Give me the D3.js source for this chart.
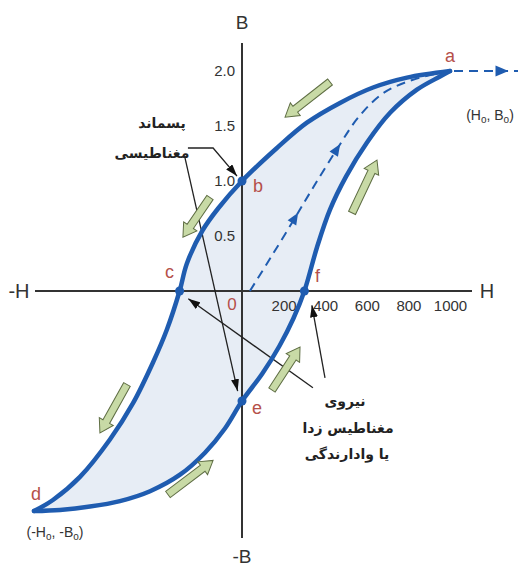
<!DOCTYPE html>
<html>
<head>
<meta charset="utf-8">
<script src="https://cdn.jsdelivr.net/npm/d3@7"></script>
<style>
  body { margin: 0; background: #fff; }
  svg { display: block; }
</style>
</head>
<body>
<svg id="chart" width="518" height="567"></svg>
<script>
// hysteresis loop, values read as [H, B]
const upperBranch = [ // a -> b -> c -> d
  [1000, 2.0], [793, 1.94], [630, 1.85], [471, 1.71], [312, 1.53], [168, 1.30],
  [0, 1.0], [-115, 0.75], [-190, 0.55], [-265, 0.25], [-300, 0], [-361, -0.35],
  [-428, -0.65], [-524, -1.02], [-635, -1.35], [-779, -1.69], [-909, -1.9], [-1000, -2.0]
];
const lowerBranch = [ // d -> e -> f -> a
  [-1000, -2.0], [-875, -1.99], [-731, -1.96], [-587, -1.91], [-442, -1.82],
  [-298, -1.67], [-178, -1.47], [-82, -1.25], [0, -1.0], [98, -0.75], [180, -0.5],
  [247, -0.25], [300, 0], [361, 0.4], [423, 0.74], [500, 1.04], [601, 1.35],
  [712, 1.62], [841, 1.83], [952, 1.95], [1000, 2.0]
];
const initialCurve = [ // dashed, from the origin up to a
  [38, 0], [140, 0.31], [250, 0.65], [345, 0.95], [460, 1.3], [560, 1.58],
  [680, 1.8], [822, 1.92], [1000, 2.0]
];
const initialArrows = [[270, 0.65], [450, 1.3]];
const extension = [[1000, 2.0], [1330, 2.0]];
const extensionArrow = [1250, 2.0];

const xTicks = [200, 400, 600, 800, 1000];
const yTicks = [0.5, 1.0, 1.5, 2.0];

const pointNames = ["a", "b", "c", "d", "e", "f"];
const pointValues = [[1000, 2.0], [0, 1.0], [-300, 0], [-1000, -2.0], [0, -1.0], [300, 0]];
const dotPoints = ["b", "c", "e", "f"];

// direction arrows along the loop [from, to]
const greenArrows = [
  [[423, 1.9], [207, 1.58]],
  [[-154, 0.85], [-284, 0.49]],
  [[529, 0.71], [649, 1.19]],
  [[-553, -0.85], [-683, -1.29]],
  [[144, -0.9], [279, -0.51]],
  [[-356, -1.85], [-139, -1.54]]
];

const remanenceText = ["پسماند", "مغناطیسی"];
const coercivityText = ["نیروی", "مغناطیس زدا", "یا وادارندگی"];

const svg = d3.select("#chart");
const blue = "#1f5cb0";
const red = "#b5504a";
const ink = "#333";
const latin = "'Liberation Sans', Arial, sans-serif";
const persian = "'DejaVu Sans', sans-serif";

const x = d3.scaleLinear().domain([0, 1000]).range([242, 450]);
const y = d3.scaleLinear().domain([0, 2]).range([291, 71]);

const line = d3.line()
  .x(d => x(d[0]))
  .y(d => y(d[1]))
  .curve(d3.curveCatmullRom.alpha(0.5));

// loop fill
const upperPath = line(upperBranch);
const lowerPath = line(lowerBranch);
svg.append("path")
  .attr("d", upperPath + "L" + lowerPath.slice(1) + "Z")
  .attr("fill", "#e7edf5");

// axes
svg.append("line")
  .attr("x1", 35).attr("x2", 472)
  .attr("y1", y(0)).attr("y2", y(0))
  .attr("stroke", ink).attr("stroke-width", 2);
svg.append("line")
  .attr("x1", x(0)).attr("x2", x(0))
  .attr("y1", 43).attr("y2", 538)
  .attr("stroke", ink).attr("stroke-width", 2);

const xAxis = svg.append("g")
  .attr("transform", "translate(0," + y(0) + ")")
  .call(d3.axisBottom(x).tickValues(xTicks).tickSize(0).tickPadding(9).tickFormat(d3.format("d")));
const yAxis = svg.append("g")
  .attr("transform", "translate(" + x(0) + ",0)")
  .call(d3.axisLeft(y).tickValues(yTicks).tickSize(0).tickPadding(7).tickFormat(d3.format(".1f")));
[xAxis, yAxis].forEach(function(g) {
  g.select(".domain").remove();
  g.selectAll("text")
    .attr("fill", ink)
    .style("font-family", latin)
    .style("font-size", "15px");
});

function axisName(t, px, py, size) {
  svg.append("text")
    .attr("x", px).attr("y", py)
    .attr("text-anchor", "middle")
    .attr("dominant-baseline", "central")
    .attr("fill", ink)
    .style("font-family", latin)
    .style("font-size", size + "px")
    .text(t);
}
axisName("B", x(0), 22, 19);
axisName("-B", x(0), 556, 19);
axisName("H", 487, y(0), 20);
axisName("-H", 19, y(0), 20);

// callout leaders
svg.append("defs").append("marker")
  .attr("id", "tip")
  .attr("viewBox", "0 0 12 8")
  .attr("refX", 12).attr("refY", 4)
  .attr("markerWidth", 12).attr("markerHeight", 8)
  .attr("markerUnits", "userSpaceOnUse")
  .attr("orient", "auto")
  .append("path").attr("d", "M0,0L12,4L0,8Z").attr("fill", "#111");

const leaders = [
  [[-260, 1.3], [-139, 1.3], [-24, 1.045]],
  [[-274, 1.21], [-21, -0.91]],
  [[341, -0.88], [-258, -0.07]],
  [[399, -0.79], [336, -0.13]]
];
const plain = d3.line().x(d => x(d[0])).y(d => y(d[1]));
svg.selectAll(".leader")
  .data(leaders)
  .enter().append("path")
    .attr("class", "leader")
    .attr("d", plain)
    .attr("fill", "none")
    .attr("stroke", "#222")
    .attr("stroke-width", 1.3)
    .attr("marker-end", "url(#tip)");

// dashed initial magnetisation curve
svg.append("path")
  .attr("d", line(initialCurve))
  .attr("fill", "none")
  .attr("stroke", blue)
  .attr("stroke-width", 2)
  .attr("stroke-dasharray", "9,6");
svg.append("path")
  .attr("d", plain(extension))
  .attr("fill", "none")
  .attr("stroke", blue)
  .attr("stroke-width", 2.2)
  .attr("stroke-dasharray", "9,6")
  .attr("stroke-dashoffset", -4);

// loop branches
[upperPath, lowerPath].forEach(function(d) {
  svg.append("path")
    .attr("d", d)
    .attr("fill", "none")
    .attr("stroke", blue)
    .attr("stroke-width", 4.5)
    .attr("stroke-linecap", "round");
});

// small triangles on the dashed curve
const dashedNode = svg.append("path").attr("d", line(initialCurve)).attr("fill", "none").node();
const total = dashedNode.getTotalLength();
function tri(px, py, ang, len, wid) {
  svg.append("path")
    .attr("d", "M" + (-len / 2) + "," + (-wid / 2) + "L" + (len / 2) + ",0L" + (-len / 2) + "," + (wid / 2) + "Z")
    .attr("transform", "translate(" + px + "," + py + ") rotate(" + ang + ")")
    .attr("fill", blue);
}
initialArrows.forEach(function(p) {
  const tx = x(p[0]), ty = y(p[1]);
  let best = 0, bestD = Infinity;
  for (let l = 0; l <= total; l += 0.5) {
    const q = dashedNode.getPointAtLength(l);
    const dd = (q.x - tx) * (q.x - tx) + (q.y - ty) * (q.y - ty);
    if (dd < bestD) { bestD = dd; best = l; }
  }
  const p0 = dashedNode.getPointAtLength(Math.max(0, best - 2));
  const p1 = dashedNode.getPointAtLength(Math.min(total, best + 2));
  const q = dashedNode.getPointAtLength(best);
  tri(q.x, q.y, Math.atan2(p1.y - p0.y, p1.x - p0.x) * 180 / Math.PI, 12, 10);
});
tri(x(extensionArrow[0]), y(extensionArrow[1]), 0, 13, 11);

// dots and point letters
const labelOffset = { a: [0, -15], b: [16, 5], c: [-10, -19], d: [2, -17], e: [15, 7], f: [13, -15] };
svg.selectAll(".dot")
  .data(pointNames.filter(n => dotPoints.includes(n)))
  .enter().append("circle")
    .attr("cx", n => x(pointValues[pointNames.indexOf(n)][0]))
    .attr("cy", n => y(pointValues[pointNames.indexOf(n)][1]))
    .attr("r", 4.5)
    .attr("fill", blue);
svg.selectAll(".plabel")
  .data(pointNames)
  .enter().append("text")
    .attr("x", (n, i) => x(pointValues[i][0]) + labelOffset[n][0])
    .attr("y", (n, i) => y(pointValues[i][1]) + labelOffset[n][1])
    .attr("text-anchor", "middle")
    .attr("dominant-baseline", "central")
    .attr("fill", red)
    .style("font-family", latin)
    .style("font-size", "18px")
    .text(n => n);
svg.append("text")
  .attr("x", x(0) - 10).attr("y", y(0) + 13)
  .attr("text-anchor", "middle")
  .attr("dominant-baseline", "central")
  .attr("fill", red)
  .style("font-family", latin)
  .style("font-size", "17px")
  .text("0");

// green direction arrows
svg.selectAll(".garrow")
  .data(greenArrows)
  .enter().append("path")
    .attr("d", function(d) {
      const x0 = x(d[0][0]), y0 = y(d[0][1]), x1 = x(d[1][0]), y1 = y(d[1][1]);
      const L = Math.hypot(x1 - x0, y1 - y0), w = 3.8, hw = 8, hl = 13;
      return "M0," + (-w) + "L" + (L - hl) + "," + (-w) + "L" + (L - hl) + "," + (-hw) +
        "L" + L + ",0L" + (L - hl) + "," + hw + "L" + (L - hl) + "," + w + "L0," + w + "Z";
    })
    .attr("transform", function(d) {
      const x0 = x(d[0][0]), y0 = y(d[0][1]), x1 = x(d[1][0]), y1 = y(d[1][1]);
      return "translate(" + x0 + "," + y0 + ") rotate(" + (Math.atan2(y1 - y0, x1 - x0) * 180 / Math.PI) + ")";
    })
    .attr("fill", "#c8daa6")
    .attr("stroke", "#5f6e44")
    .attr("stroke-width", 1);

// (H0, B0) labels
function coordLabel(px, py, neg) {
  const t = svg.append("text")
    .attr("x", px).attr("y", py)
    .attr("text-anchor", "middle")
    .attr("dominant-baseline", "central")
    .attr("fill", ink)
    .style("font-family", latin)
    .style("font-size", "14px");
  t.append("tspan").text(neg ? "(-H" : "(H");
  t.append("tspan").attr("dy", 4).style("font-size", "10px").text("o");
  t.append("tspan").attr("dy", -4).text(neg ? ", -B" : ", B");
  t.append("tspan").attr("dy", 4).style("font-size", "10px").text("o");
  t.append("tspan").attr("dy", -4).text(")");
}
coordLabel(490, 115, false);
coordLabel(55, 532, true);

// persian annotations
function persianLines(lines, cx, ys, anchor) {
  lines.forEach(function(t, i) {
    svg.append("text")
      .attr("x", cx[i]).attr("y", ys[i])
      .attr("text-anchor", anchor)
      .attr("dominant-baseline", "central")
      .attr("fill", "#222")
      .style("font-family", persian)
      .style("font-size", "14px")
      .style("font-weight", "bold")
      .text(t);
  });
}
persianLines(remanenceText, [162, 152], [123, 153], "middle");
persianLines(coercivityText, [345, 348, 347], [401, 428, 454], "middle");
</script>
</body>
</html>
